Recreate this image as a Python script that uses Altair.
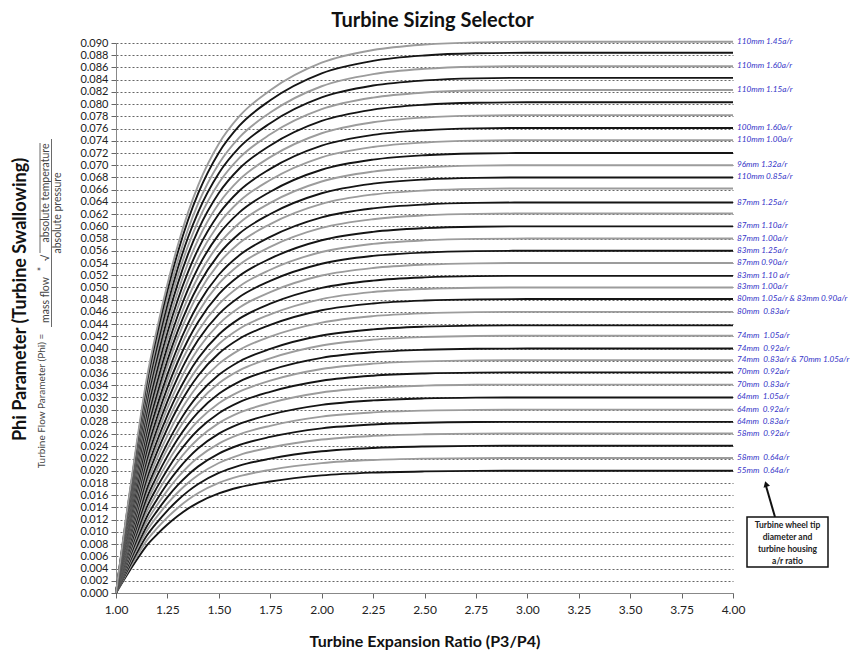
import altair as alt
import pandas as pd

# ---------------- data ----------------
# common normalised curve profile (phi / plateau level) vs expansion ratio
X_POINTS = [1.00, 1.05, 1.10, 1.15, 1.20, 1.25, 1.30, 1.35, 1.40, 1.50, 1.60,
            1.75, 2.00, 2.25, 2.50, 2.75, 3.00, 3.50, 4.00]
SHAPE = [0.000, 0.140, 0.270, 0.390, 0.480, 0.560, 0.630, 0.690, 0.740, 0.815,
         0.865, 0.912, 0.962, 0.985, 0.995, 0.999, 1.000, 1.000, 1.000]

# plateau level of every curve (bottom to top), read at P3/P4 = 4.00
LEVELS = [0.0200, 0.0221, 0.0241, 0.0261, 0.0280, 0.0300, 0.0320, 0.0341,
          0.0361, 0.0381, 0.0400, 0.0421, 0.0438, 0.0460, 0.0481, 0.0500,
          0.0519, 0.0540, 0.0560, 0.0580, 0.0600, 0.0621, 0.0639, 0.0662,
          0.0680, 0.0700, 0.0720, 0.0741, 0.0761, 0.0782, 0.0803, 0.0823,
          0.0843, 0.0862, 0.0884, 0.0902]

NB = "\u00a0"
LABEL_LEVELS = [0.0902, 0.0862, 0.0823, 0.0761, 0.0741, 0.0700, 0.0680, 0.0639,
                0.0600, 0.0580, 0.0560, 0.0540, 0.0519, 0.0500, 0.0481, 0.0460,
                0.0421, 0.0400, 0.0381, 0.0361, 0.0341, 0.0320, 0.0300, 0.0280,
                0.0261, 0.0221, 0.0200]
LABEL_TEXTS = [
    "110mm 1.45a/r", "110mm 1.60a/r", "110mm 1.15a/r", "100mm 1.60a/r",
    "110mm 1.00a/r", "96mm 1.32a/r", "110mm 0.85a/r", "87mm 1.25a/r",
    "87mm 1.10a/r", "87mm 1.00a/r", "83mm 1.25a/r", "87mm 0.90a/r",
    "83mm 1.10 a/r", "83mm 1.00a/r",
    "80mm 1.05a/r" + NB + "&" + NB + "83mm 0.90a/r",
    "80mm" + NB + NB + "0.83a/r",
    "74mm" + NB + NB + "1.05a/r", "74mm" + NB + NB + "0.92a/r",
    "74mm" + NB + NB + "0.83a/r" + NB + "&" + NB + "70mm 1.05a/r",
    "70mm" + NB + NB + "0.92a/r", "70mm" + NB + NB + "0.83a/r",
    "64mm" + NB + NB + "1.05a/r", "64mm" + NB + NB + "0.92a/r",
    "64mm" + NB + NB + "0.83a/r", "58mm" + NB + NB + "0.92a/r",
    "58mm" + NB + NB + "0.64a/r", "55mm" + NB + NB + "0.64a/r",
]

Y_TICKS = [round(i * 0.002, 3) for i in range(46)]
X_TICKS = [1.0, 1.25, 1.5, 1.75, 2.0, 2.25, 2.5, 2.75, 3.0, 3.25, 3.5, 3.75, 4.0]

BOX_LINES = ["Turbine wheel tip", "diameter and", "turbine housing", "a/r ratio"]

# ---------------- tables ----------------
rows = []
for ci, lvl in enumerate(LEVELS):
    tone = "black" if ci % 2 == 0 else "gray"
    for xv, g in zip(X_POINTS, SHAPE):
        rows.append({"curve": ci, "ratio": xv, "phi": lvl * g, "tone": tone})
curves = pd.DataFrame(rows)

labels = pd.DataFrame({"ratio": [4.0] * len(LABEL_TEXTS), "phi": LABEL_LEVELS,
                       "text": LABEL_TEXTS})

FONT = "Lato"

xs = alt.Scale(domain=[1, 4], nice=False, zero=False)
ys = alt.Scale(domain=[0, 0.09], nice=False, zero=True)

x_axis = alt.Axis(values=X_TICKS, tickCount=40, format=".2f", grid=False,
                  labelFlush=False, labelOverlap=False, labelFontSize=12,
                  title="Turbine Expansion Ratio (P3/P4)",
                  titleFontSize=16, titlePadding=18, labelPadding=6)
y_axis = alt.Axis(values=Y_TICKS, tickCount=100, format=".3f", grid=True,
                  labelOverlap=False, labelFlush=False, labelFontSize=11,
                  gridDash=[2, 2], gridColor="#666", gridWidth=1,
                  title="Phi Parameter (Turbine Swallowing)",
                  titleFontSize=18, titleX=-96, titleY=256,
                  titleAngle=270, titleAlign="center",
                  titleBaseline="middle", labelPadding=3)

lines = alt.Chart(curves).mark_line(strokeWidth=1.9, interpolate="monotone").encode(
    x=alt.X("ratio:Q", scale=xs, axis=x_axis),
    y=alt.Y("phi:Q", scale=ys, axis=y_axis),
    detail="curve:N",
    color=alt.Color("tone:N", scale=alt.Scale(domain=["black", "gray"],
                                              range=["#151515", "#9c9c9c"]),
                    legend=None),
    order="curve:Q",
)

lab = alt.Chart(labels).mark_text(align="left", baseline="middle", dx=4,
                                  fontStyle="italic", fontSize=8.2,
                                  color="#3535c8", font=FONT).encode(
    x=alt.X("ratio:Q", scale=xs, axis=x_axis),
    y=alt.Y("phi:Q", scale=ys, axis=y_axis),
    text="text:N")

# annotation box (pixel positions relative to plot area)
box = alt.Chart(pd.DataFrame({"a": [0]})).mark_rect(
    fill="white", stroke="#111", strokeWidth=1.5).encode(
    x=alt.value(631), x2=alt.value(712), y=alt.value(474), y2=alt.value(524))

box_txt = alt.Chart(pd.DataFrame({"t": BOX_LINES, "yy": [482, 494, 506, 518]})).mark_text(
    fontSize=8.5, fontWeight="bold", color="#222", font=FONT, baseline="middle").encode(
    x=alt.value(671.5), y=alt.Y("yy:Q", scale=None), text="t:N")

arrow = alt.Chart(pd.DataFrame({"a": [0]})).mark_rule(strokeWidth=2, color="#111").encode(
    x=alt.value(659), y=alt.value(474), x2=alt.value(650), y2=alt.value(443))
head = alt.Chart(pd.DataFrame({"a": [0]})).mark_point(
    shape="triangle-up", filled=True, size=45, color="#111", angle=344, opacity=1).encode(
    x=alt.value(650), y=alt.value(441))

# formula next to the y axis
ftxt = pd.DataFrame({
    "t": ["Turbine Flow Parameter (Phi) =", "mass flow", "*", "\u221a",
          "absolute temperature", "absolute pressure"],
    "xx": [-74, -70, -73, -70, -70, -58],
    "yy": [358, 257, 226, 215, 150, 170],
    "fs": [10, 10.5, 10.5, 10.5, 10.5, 10.5],
})
formula = alt.Chart(ftxt).mark_text(angle=270, color="#444",
                                    font=FONT, baseline="middle", align="center").encode(
    x=alt.X("xx:Q", scale=None), y=alt.Y("yy:Q", scale=None), text="t:N",
    size=alt.Size("fs:Q", scale=None, legend=None))
fbar = alt.Chart(pd.DataFrame({"a": [0]})).mark_rule(strokeWidth=0.8, color="#444").encode(
    x=alt.value(-64.5), x2=alt.value(-64.5), y=alt.value(96), y2=alt.value(284))
sqbar = alt.Chart(pd.DataFrame({"a": [0]})).mark_rule(strokeWidth=0.8, color="#444").encode(
    x=alt.value(-76), x2=alt.value(-76), y=alt.value(100), y2=alt.value(210))

chart = alt.layer(lines, lab, arrow, head, box, box_txt, formula, fbar, sqbar).properties(
    width=617, height=550,
    padding={"left": 108, "top": 35, "right": 125, "bottom": 60},
    autosize=alt.AutoSizeParams(type="none"),
    title=alt.TitleParams("Turbine Sizing Selector", fontSize=20, font=FONT,
                          fontWeight="bold", anchor="middle", offset=6, dx=8,
                          color="#111"),
).configure_axis(
    labelFont=FONT, titleFont=FONT, labelColor="#222",
    titleColor="#111", titleFontWeight="bold", domainColor="#888",
    tickColor="#666", tickSize=5,
).configure_view(stroke=None)

chart.save("out.html", embed_options={"renderer": "svg", "actions": False})
